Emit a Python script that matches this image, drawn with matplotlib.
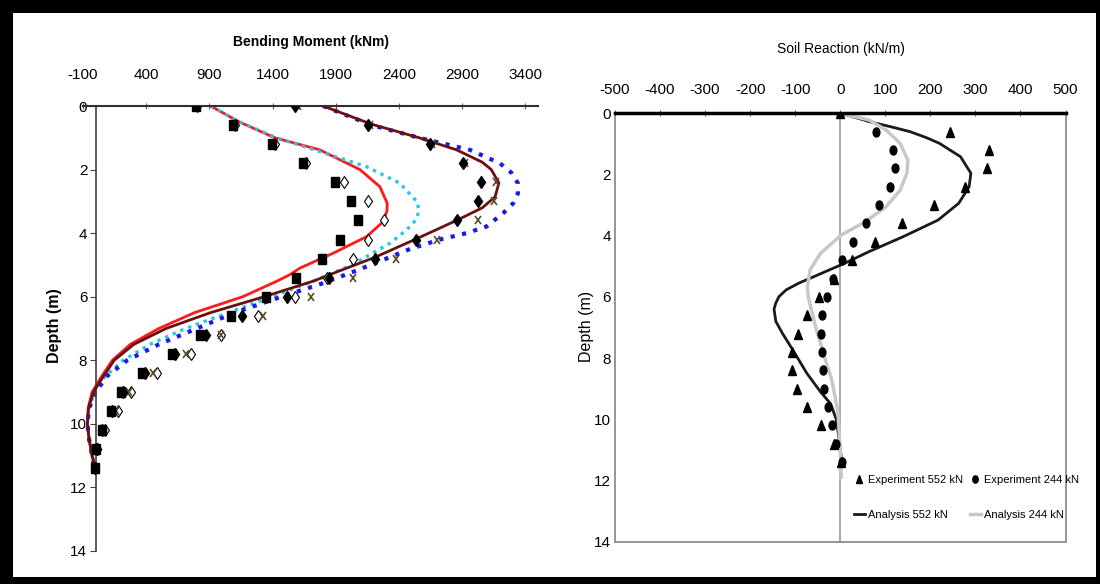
import numpy as np
import matplotlib
matplotlib.use("Agg")
from matplotlib import pyplot as plt
from matplotlib.patches import Rectangle
from matplotlib.markers import MarkerStyle
from matplotlib.transforms import Affine2D

plt.rcParams['font.family'] = ['Liberation Sans Narrow', 'Liberation Sans', 'DejaVu Sans']
plt.rcParams['axes.unicode_minus'] = False

####### Bending moment panel (left) #######################################
depth_exp = [0, 0.6, 1.2, 1.8, 2.4, 3.0, 3.6, 4.2, 4.8, 5.4, 6.0, 6.6, 7.2, 7.8,
             8.4, 9.0, 9.6, 10.2, 10.8, 11.4]

bm_square = [791, 1088, 1396, 1638, 1890, 2023, 2079, 1935, 1794, 1582, 1348, 1073,
             825, 602, 367, 203, 124, 48, 6, -8]
bm_diamond = [1576, 2153, 2647, 2907, 3050, 3022, 2861, 2532, 2210, 1848, 1514, 1158,
              870, 630, 390, 215, 130, 50, 10, -5]
bm_open = [800, 1100, 1420, 1667, 1969, 2158, 2280, 2158, 2040, 1828, 1574, 1283,
           989, 754, 486, 282, 175, 76, 10, -5]
bm_cross = [1600, 2170, 2660, 2924, 3170, 3155, 3028, 2704, 2373, 2040, 1701, 1328,
            989, 718, 452, 260, 161, 62, 10, -5]

red_depth = [0, 0.5, 1.0, 1.38, 2.0, 2.54, 3.06, 3.3, 3.64, 4.11, 4.63, 5.1, 5.3, 5.5,
             6.0, 6.5, 7.0, 7.5, 8.0, 8.5, 9.0, 9.5, 10.0, 10.5, 11.0, 11.3]
red_bm = [910, 1136, 1418, 1774, 2091, 2249, 2307, 2305, 2275, 2144, 1880, 1616, 1540,
          1440, 1164, 783, 500, 274, 133, 48, -28, -59, -65, -51, -28, -8]

cyan_depth = [0, 0.5, 1.0, 1.5, 1.91, 2.43, 3.0, 3.3, 3.6, 3.9, 4.32, 5.0, 5.5, 6.0, 6.5,
              7.0, 7.5, 8.0, 8.5, 9.0, 9.5, 10.0, 10.5, 11.0, 11.3]
cyan_bm = [910, 1136, 1432, 1826, 2144, 2407, 2540, 2560, 2530, 2460, 2328, 2026, 1729,
           1390, 1051, 712, 429, 218, 76, -8, -51, -65, -51, -28, -17]

maroon_depth = [0, 0.57, 1.0, 1.38, 1.77, 2.0, 2.42, 2.86, 3.2, 3.59, 4.19, 4.76, 5.3,
                5.5, 6.0, 6.5, 7.0, 7.5, 8.0, 8.5, 9.0, 9.5, 10.0, 10.5, 11.0, 11.3]
maroon_bm = [1800, 2181, 2560, 2856, 3060, 3130, 3191, 3160, 3060, 2861, 2532, 2210, 1856,
             1729, 1333, 910, 557, 302, 147, 62, -17, -56, -65, -51, -28, -8]

blue_depth = [0, 0.6, 1.0, 1.38, 1.8, 2.1, 2.43, 2.75, 3.06, 3.37, 3.79, 4.0, 4.2, 4.5,
              4.84, 5.2, 5.6, 6.0, 6.5, 7.0, 7.5, 8.0, 8.5, 9.0, 9.5, 10.0, 10.5, 11.0,
              11.3]
blue_bm = [1800, 2181, 2560, 2961, 3198, 3290, 3341, 3341, 3304, 3225, 3093, 2935, 2724,
           2487, 2275, 2050, 1780, 1470, 1100, 800, 500, 250, 90, 0, -51, -65, -51, -28,
           -17]

bm_ticks = [-100, 400, 900, 1400, 1900, 2400, 2900, 3400]
depth_ticks = [0, 2, 4, 6, 8, 10, 12, 14]

####### Soil reaction panel (right) #######################################
sr_552 = [0, 244, 330, 326, 277, 207, 138, 77, 27, -13, -48, -74, -94, -107, -107,
          -97, -74, -42, -13, 2]
sr_244 = [0, 79, 116, 122, 110, 85, 58, 29, 4, -17, -30, -40, -42, -41, -38, -35,
          -27, -18, -9, 4]

an552_depth = [0, 0.1, 0.27, 0.45, 0.6, 0.8, 0.98, 1.42, 1.96, 2.4, 2.94, 3.49, 4.03,
               4.52, 4.9, 5.34, 5.55, 5.77, 5.99, 6.2, 6.4, 6.8, 7.2, 7.74, 8.5, 9.1,
               9.5, 10.0, 10.5, 11.1, 11.4]
an552 = [0, 25, 64, 115, 155, 192, 220, 267, 290, 286, 263, 217, 140, 64, 10, -59, -92,
         -120, -136, -143, -147, -143, -128, -105, -74, -44, -21, -9, -4, 1, 4]

an244_depth = [0, 0.22, 0.55, 0.98, 1.53, 1.96, 2.51, 3.05, 3.54, 3.98, 4.58, 5.12, 5.67,
               6.0, 6.5, 7.07, 7.6, 8.2, 8.7, 9.3, 9.8, 10.55, 11.3, 11.9]
an244 = [0, 64, 102, 133, 150, 148, 133, 102, 56, 2, -44, -67, -73, -71, -63, -53, -42,
         -30, -19, -11, -5, -2, 1, 2]

sr_ticks = [-500, -400, -300, -200, -100, 0, 100, 200, 300, 400, 500]


def tall(m):
    # markers in the scan look squeezed sideways
    return MarkerStyle(m, transform=Affine2D().scale(0.75, 1.0))


W, H = 1100, 584
fig = plt.figure(figsize=(W / 100, H / 100), dpi=100)
fig.patch.set_facecolor('black')
fig.patches.append(Rectangle((13 / W, 7 / H), 1083 / W, 564 / H, transform=fig.transFigure,
                             facecolor='white', edgecolor='none', zorder=-5))

# ---------------- left -----------------
ax1 = fig.add_axes([83 / W, 1 - 551 / H, 455 / W, 445 / H])
ax1.plot(red_bm, red_depth, color='#ff1a1a', lw=2, zorder=2)
ax1.plot(cyan_bm, cyan_depth, color='#22c8f0', lw=2.4, ls=(0, (1, 1.5)), zorder=2)
ax1.plot(maroon_bm, maroon_depth, color='#6b1010', lw=2, zorder=3)
ax1.plot(blue_bm, blue_depth, color='#1a1ae6', lw=3, ls=(0, (1, 1.8)), zorder=2)

ax1.plot(bm_open, depth_exp, marker=tall('D'), ms=6, mfc='white', mec='black', mew=0.8,
         ls='none', zorder=4)
ax1.plot(bm_cross, depth_exp, marker=tall('x'), ms=5.5, color='#5a4a28', mew=1.2,
         ls='none', zorder=4)
ax1.plot(bm_square, depth_exp, marker=tall('s'), ms=7.5, color='black', ls='none', zorder=5)
ax1.plot(bm_diamond, depth_exp, marker=tall('D'), ms=6, color='black', ls='none', zorder=5)

ax1.set_xlim(-100, 3500)
ax1.set_ylim(14, 0)
ax1.xaxis.tick_top()
ax1.set_xticks(bm_ticks)
ax1.set_yticks(depth_ticks)
ax1.spines['right'].set_visible(False)
ax1.spines['bottom'].set_visible(False)
ax1.spines['left'].set_position(('data', 0))
ax1.spines['left'].set_color('#404040')
ax1.spines['left'].set_linewidth(1.2)
ax1.spines['top'].set_color('#303030')
ax1.spines['top'].set_linewidth(1.5)
ax1.tick_params(axis='x', direction='inout', length=4, pad=15, labelsize=11, color='#606060')
ax1.tick_params(axis='y', direction='out', length=4, pad=2, labelsize=11, color='#404040')
ax1.patch.set_alpha(0)
fig.text(311 / W, 1 - 42 / H, 'Bending Moment (kNm)', ha='center', va='center',
         fontsize=10, fontweight='bold')
fig.text(55 / W, 1 - 326 / H, 'Depth (m)', ha='center', va='center', rotation=90,
         fontsize=11.5, fontweight='bold')

# ---------------- right -----------------
ax2 = fig.add_axes([615 / W, 1 - 541.7 / H, 450.5 / W, 428.4 / H])
ax2.axvline(0, color='#999999', lw=1.2, zorder=1)
ax2.plot(an552, an552_depth, color='#1a1a1a', lw=2, label='Analysis 552 kN', zorder=2)
ax2.plot(an244, an244_depth, color='#c8c8c8', lw=2.5, label='Analysis 244 kN', zorder=2)
ax2.plot(sr_552, depth_exp, marker=tall('^'), ms=7, color='black', ls='none',
         label='Experiment 552 kN', zorder=3)
ax2.plot(sr_244, depth_exp, marker=tall('o'), ms=6.5, color='black', ls='none',
         label='Experiment 244 kN', zorder=3)

ax2.set_xlim(-500, 500)
ax2.set_ylim(14, 0)
ax2.xaxis.tick_top()
ax2.set_xticks(sr_ticks)
ax2.set_yticks(depth_ticks)
for s in ['left', 'right', 'bottom']:
    ax2.spines[s].set_color('#8c8c8c')
    ax2.spines[s].set_linewidth(1.3)
ax2.spines['top'].set_color('black')
ax2.spines['top'].set_linewidth(2.5)
ax2.tick_params(axis='x', direction='inout', length=4, pad=10, labelsize=11, color='#606060')
ax2.tick_params(axis='y', length=0, pad=3, labelsize=11)

h, l = ax2.get_legend_handles_labels()
order = [2, 0, 3, 1]
ax2.legend([h[i] for i in order], [l[i] for i in order], ncol=2, frameon=False,
           loc='upper left', bbox_to_anchor=(0.52, 0.167), borderaxespad=0,
           fontsize=8, handlelength=1.0, handletextpad=0.3, columnspacing=0.6,
           labelspacing=2.3, markerscale=0.8)

fig.text(841 / W, 1 - 49 / H, 'Soil Reaction (kN/m)', ha='center', va='center', fontsize=10)
fig.text(586 / W, 1 - 326 / H, 'Depth (m)', ha='center', va='center', rotation=90, fontsize=11.5)

fig.savefig('out.png', dpi=100, facecolor=fig.get_facecolor())
